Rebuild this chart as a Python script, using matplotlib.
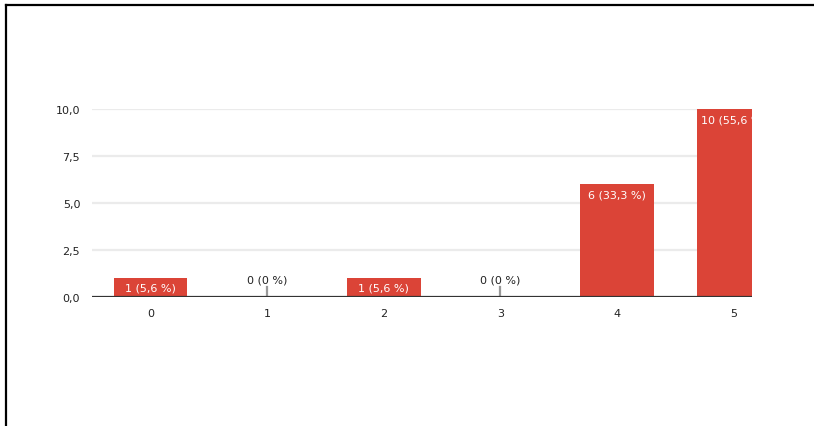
import matplotlib
matplotlib.use("Agg")
import matplotlib.pyplot as plt
from matplotlib.lines import Line2D

# datos de la encuesta
categorias = ["0", "1", "2", "3", "4", "5"]
valores = [1, 0, 1, 0, 6, 10]
etiquetas = ["1 (5,6 %)", "0 (0 %)", "1 (5,6 %)", "0 (0 %)", "6 (33,3 %)", "10 (55,6 %)"]
ticks_y = [0, 2.5, 5, 7.5, 10]
ticks_y_txt = ["0,0", "2,5", "5,0", "7,5", "10,0"]

plt.rcParams['font.family'] = ['DejaVu Sans']

fig = plt.figure(figsize=(8.14, 4.27), dpi=100)
fig.patch.set_facecolor('white')
ax = fig.add_axes([92 / 814, 1 - 298 / 427, 660 / 814, 188 / 427])

x = list(range(len(categorias)))
ax.bar(x, valores, width=0.63, color='#db4437', zorder=3)

# rejilla horizontal
for t in ticks_y[1:]:
    ax.axhline(t, color='#ebebeb', linewidth=1.6, zorder=1)
ax.axhline(0, color='#333333', linewidth=1.6, zorder=4)

# etiquetas de cada barra
for xi, v, txt in zip(x, valores, etiquetas):
    if v == 0:
        ax.plot([xi, xi], [0, 0.55], color='#999999', linewidth=1.6, zorder=3)
        ax.text(xi, 0.65, txt, ha='center', va='bottom', fontsize=8,
                color='#222222', zorder=5)
    elif v < 2:
        ax.text(xi, v / 2, txt, ha='center', va='center', fontsize=8,
                color='white', zorder=5, clip_on=True)
    else:
        ax.text(xi, v - 0.55, txt, ha='center', va='center', fontsize=8,
                color='white', zorder=5, clip_on=True)

ax.set_xlim(-0.5, 5.155)
ax.set_ylim(0, 10)
ax.set_xticks(x)
ax.set_xticklabels(categorias)
ax.set_yticks(ticks_y)
ax.set_yticklabels(ticks_y_txt)
ax.tick_params(length=0, labelsize=8, labelcolor='#222222')
ax.tick_params(axis='y', pad=8.5)
ax.tick_params(axis='x', pad=8)
for s in ax.spines.values():
    s.set_visible(False)

# borde de la captura
fig.add_artist(Line2D([5.5 / 814, 5.5 / 814], [0, 1 - 6 / 427], color='black',
                      linewidth=1.6, transform=fig.transFigure))
fig.add_artist(Line2D([5.5 / 814, 1], [1 - 6 / 427, 1 - 6 / 427], color='black',
                      linewidth=1.6, transform=fig.transFigure))

fig.savefig("out.png", dpi=100)
